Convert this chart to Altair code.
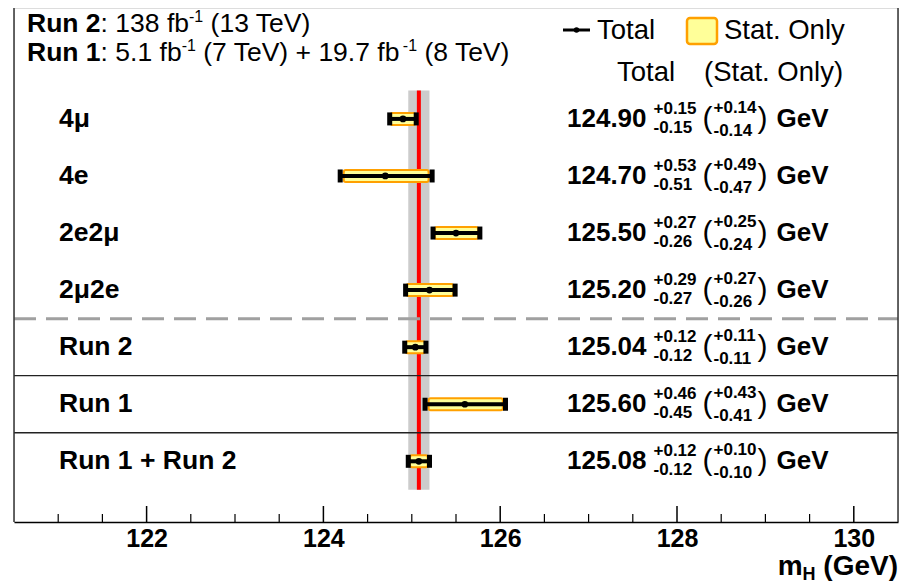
import altair as alt
import pandas as pd

# ---------------- data ----------------
channels = ["4μ", "4e", "2e2μ", "2μ2e", "Run 2", "Run 1", "Run 1 + Run 2"]
central = [124.90, 124.70, 125.50, 125.20, 125.04, 125.60, 125.08]
total_up = [0.15, 0.53, 0.27, 0.29, 0.12, 0.46, 0.12]
total_down = [0.15, 0.51, 0.26, 0.27, 0.12, 0.45, 0.12]
stat_up = [0.14, 0.49, 0.25, 0.27, 0.11, 0.43, 0.10]
stat_down = [0.14, 0.47, 0.24, 0.26, 0.11, 0.41, 0.10]
combined_value = [125.08]
combined_up = [0.12]
combined_down = [0.12]
separator_rows = [3.5, 4.5, 5.5]
separator_dashed = [True, False, False]
major_ticks = [122, 124, 126, 128, 130]
minor_ticks = [121, 121.5, 122.5, 123, 123.5, 124.5, 125, 125.5,
               126.5, 127, 127.5, 128.5, 129, 129.5]

# ---------------- layout helpers ----------------
W, H = 884, 514
FONT = "Liberation Sans"
REG = {' ': 278, '(': 333, ')': 333, '+': 584, '-': 333, '.': 278, ':': 278,
       'T': 611, 'e': 556, 'V': 667, 'f': 278, 'b': 556, 'S': 667, 't': 278,
       'a': 556, 'O': 778, 'n': 556, 'l': 222, 'y': 500, 'o': 556, 'R': 722,
       'u': 556, 'G': 778}
BOLD = {' ': 278, '(': 333, ')': 333, '+': 584, '-': 333, '.': 278, ':': 333,
        'R': 722, 'u': 611, 'n': 611, 'G': 778, 'e': 556, 'V': 667, 'm': 889,
        'H': 722, 'T': 611, 'f': 333, 'b': 611}


def tw(s, size, bold=False):
    tab = BOLD if bold else REG
    return sum(tab.get(c, 556) for c in s) / 1000.0 * size


one = pd.DataFrame({"k": [0]})


def label(s, x, y, size, bold=False, align="left", baseline="middle", dy=0):
    return alt.Chart(one).mark_text(
        text=s, font=FONT, fontSize=size, fontWeight="bold" if bold else "normal",
        align=align, baseline=baseline, color="black", dy=dy
    ).encode(x=alt.value(x), y=alt.value(y))


n = len(channels)
df = pd.DataFrame({
    "row": list(range(n)),
    "channel": channels,
    "central": central,
    "tot_lo": [c - d for c, d in zip(central, total_down)],
    "tot_hi": [c + u for c, u in zip(central, total_up)],
    "stat_lo": [c - d for c, d in zip(central, stat_down)],
    "stat_hi": [c + u for c, u in zip(central, stat_up)],
    "main": [f"{c:.2f}" for c in central],
    "tup": [f"+{u:.2f}" for u in total_up],
    "tdn": [f"-{d:.2f}" for d in total_down],
    "sup": [f"+{u:.2f}" for u in stat_up],
    "sdn": [f"-{d:.2f}" for d in stat_down],
})

band = pd.DataFrame({
    "c": combined_value,
    "lo": [combined_value[0] - combined_down[0]],
    "hi": [combined_value[0] + combined_up[0]],
    "top": [-0.5],
    "bot": [n - 0.5],
})
seps = pd.DataFrame({"r": separator_rows, "dashed": separator_dashed})
majors = pd.DataFrame({"t": major_ticks})
minors = pd.DataFrame({"t": minor_ticks})

xs = alt.Scale(domain=[120.5, 130.5], nice=False, zero=False)
ys = alt.Scale(domain=[-1.856, 6.976], nice=False, zero=False, reverse=True)
xaxis = alt.Axis(
    values=major_ticks, format="d", labelFont=FONT, labelFontWeight="bold",
    labelFontSize=25, labelColor="black", ticks=False, grid=False,
    domainColor="black", domainWidth=1.5, title=None, labelPadding=4)


def X(f):
    return alt.X(f, type="quantitative", scale=xs, axis=xaxis)


def Y(f):
    return alt.Y(f, type="quantitative", scale=ys, axis=None)


# ---------------- marks ----------------
major_layer = alt.Chart(majors).mark_rule(color="black", strokeWidth=1.5).encode(
    x=X("t"), y=alt.value(H), y2=alt.value(H - 16))
minor_layer = alt.Chart(minors).mark_rule(color="black", strokeWidth=1.2).encode(
    x=X("t"), y=alt.value(H), y2=alt.value(H - 8))

frame_l = alt.Chart(one).mark_rule(color="#333333", strokeWidth=1.5).encode(
    x=alt.value(0), y=alt.value(0), y2=alt.value(H))
frame_r = alt.Chart(one).mark_rule(color="#333333", strokeWidth=1.5).encode(
    x=alt.value(W), y=alt.value(0), y2=alt.value(H))

band_layer = alt.Chart(band).mark_rect(color="#cccccc").encode(
    x=X("lo"), x2="hi", y=Y("top"), y2="bot")
red_layer = alt.Chart(band).mark_rule(color="#ff0000", strokeWidth=4).encode(
    x=X("c"), y=Y("top"), y2="bot")

sep_dash = alt.Chart(seps[seps.dashed]).mark_rule(
    color="#a0a0a0", strokeWidth=3, strokeDash=[22, 10]).encode(
    y=Y("r"), x=alt.value(0), x2=alt.value(W))
sep_solid = alt.Chart(seps[~seps.dashed]).mark_rule(
    color="#222222", strokeWidth=1.3).encode(
    y=Y("r"), x=alt.value(0), x2=alt.value(W))

stat_layer = alt.Chart(df).mark_bar(
    orient="horizontal", size=12, fill="#ffff99", stroke="#ffa000",
    strokeWidth=2, cornerRadius=2).encode(x=X("stat_lo"), x2="stat_hi", y=Y("row"))
tot_layer = alt.Chart(df).mark_rule(color="black", strokeWidth=4).encode(
    x=X("tot_lo"), x2="tot_hi", y=Y("row"))
cap_lo = alt.Chart(df).mark_tick(orient="vertical", size=13, thickness=5,
                                 color="black", opacity=1).encode(x=X("tot_lo"), y=Y("row"))
cap_hi = alt.Chart(df).mark_tick(orient="vertical", size=13, thickness=5,
                                 color="black", opacity=1).encode(x=X("tot_hi"), y=Y("row"))
dot_layer = alt.Chart(df).mark_circle(size=45, color="black", opacity=1).encode(
    x=X("central"), y=Y("row"))

# row labels
row_labels = alt.Chart(df).mark_text(
    font=FONT, fontSize=26.5, fontWeight="bold", align="left", baseline="middle",
    color="black").encode(x=alt.value(45), y=Y("row"), text="channel")

# value column
MS, SS, PS = 26, 17, 30
x_main = 553
x_sup = x_main + tw("124.90", MS, True) + 7
x_lp = x_sup + tw("+0.15", SS, True) + 6
x_ssup = x_lp + tw("(", PS) + 1
x_rp = x_ssup + tw("+0.15", SS, True) + 1
x_gev = x_rp + tw(")", PS) + 9


def col(field, x, size, dy, bold=True):
    return alt.Chart(df).mark_text(
        font=FONT, fontSize=size, fontWeight="bold" if bold else "normal",
        align="left", baseline="middle", color="black", dy=dy
    ).encode(x=alt.value(x), y=Y("row"), text=field + ":N")


val_layers = [
    col("main", x_main, MS, 0),
    col("tup", x_sup, SS, -10),
    col("tdn", x_sup, SS, 9),
    alt.Chart(df).mark_text(text="(", font=FONT, fontSize=PS, baseline="middle",
                            align="left", color="black").encode(x=alt.value(x_lp), y=Y("row")),
    col("sup", x_ssup, SS, -11),
    col("sdn", x_ssup, SS, 12),
    alt.Chart(df).mark_text(text=")", font=FONT, fontSize=PS, baseline="middle",
                            align="left", color="black").encode(x=alt.value(x_rp), y=Y("row")),
    alt.Chart(df).mark_text(text="GeV", font=FONT, fontSize=MS, fontWeight="bold",
                            baseline="middle", align="left",
                            color="black").encode(x=alt.value(x_gev), y=Y("row")),
]

# header
HS, SUPS = 26.5, 16
hx = 13


def header_line(parts, y):
    layers = []
    x = hx
    for s, kind in parts:
        bold = kind == "b"
        size = SUPS if kind == "s" else HS
        lead = len(s) - len(s.lstrip(" "))
        x += tw(" " * lead, size, bold)
        s2 = s.lstrip(" ")
        layers.append(label(s2, x, y, size, bold=bold, dy=-7 if kind == "s" else 0))
        x += tw(s2, size, bold)
    return layers


header = header_line([("Run 2", "b"), (": 138 fb", "r"), ("-1", "s"), (" (13 TeV)", "r")], 16) + \
    header_line([("Run 1", "b"), (": 5.1 fb", "r"), ("-1", "s"), (" (7 TeV) + 19.7 fb", "r"),
                 ("-1", "s"), (" (8 TeV)", "r")], 45)

# legend
LS = 27.5
leg_line = alt.Chart(one).mark_rule(color="black", strokeWidth=3).encode(
    x=alt.value(549), x2=alt.value(576), y=alt.value(22))
leg_dot = alt.Chart(one).mark_circle(size=30, color="black", opacity=1).encode(
    x=alt.value(562.5), y=alt.value(22))
leg_box = alt.Chart(one).mark_rect(fill="#ffff99", stroke="#ffa000", strokeWidth=2.5,
                                   cornerRadius=3).encode(
    x=alt.value(673), x2=alt.value(703), y=alt.value(10), y2=alt.value(36))
legend = [leg_line, leg_dot, leg_box,
          label("Total", 583, 23, LS),
          label("Stat. Only", 710, 23, LS),
          label("Total", 603, 65, LS),
          label("(Stat. Only)", 690, 65, LS)]

# x-axis title m_H (GeV)
TS = 28
HSUB = 18
t_gev = " (GeV)"
xr = W
ty = 559
title = [
    label(t_gev, xr, ty, TS, bold=True, align="right"),
    label("H", xr - tw(t_gev, TS, True), ty, HSUB, bold=True, align="right", dy=8),
    label("m", xr - tw(t_gev, TS, True) - tw("H", HSUB, True), ty, TS, bold=True, align="right"),
]

chart = alt.layer(
    band_layer, red_layer, sep_dash, sep_solid, minor_layer, major_layer,
    frame_l, frame_r,
    stat_layer, tot_layer, cap_lo, cap_hi, dot_layer, row_labels,
    *val_layers, *header, *legend, *title
).properties(
    width=W, height=H,
    autosize=alt.AutoSizeParams(type="none"),
    padding={"left": 6, "top": 0, "right": 9, "bottom": 62},
).configure_view(stroke=None).configure(background="white")

chart.save("out.html", embed_options={"renderer": "svg", "actions": False})
